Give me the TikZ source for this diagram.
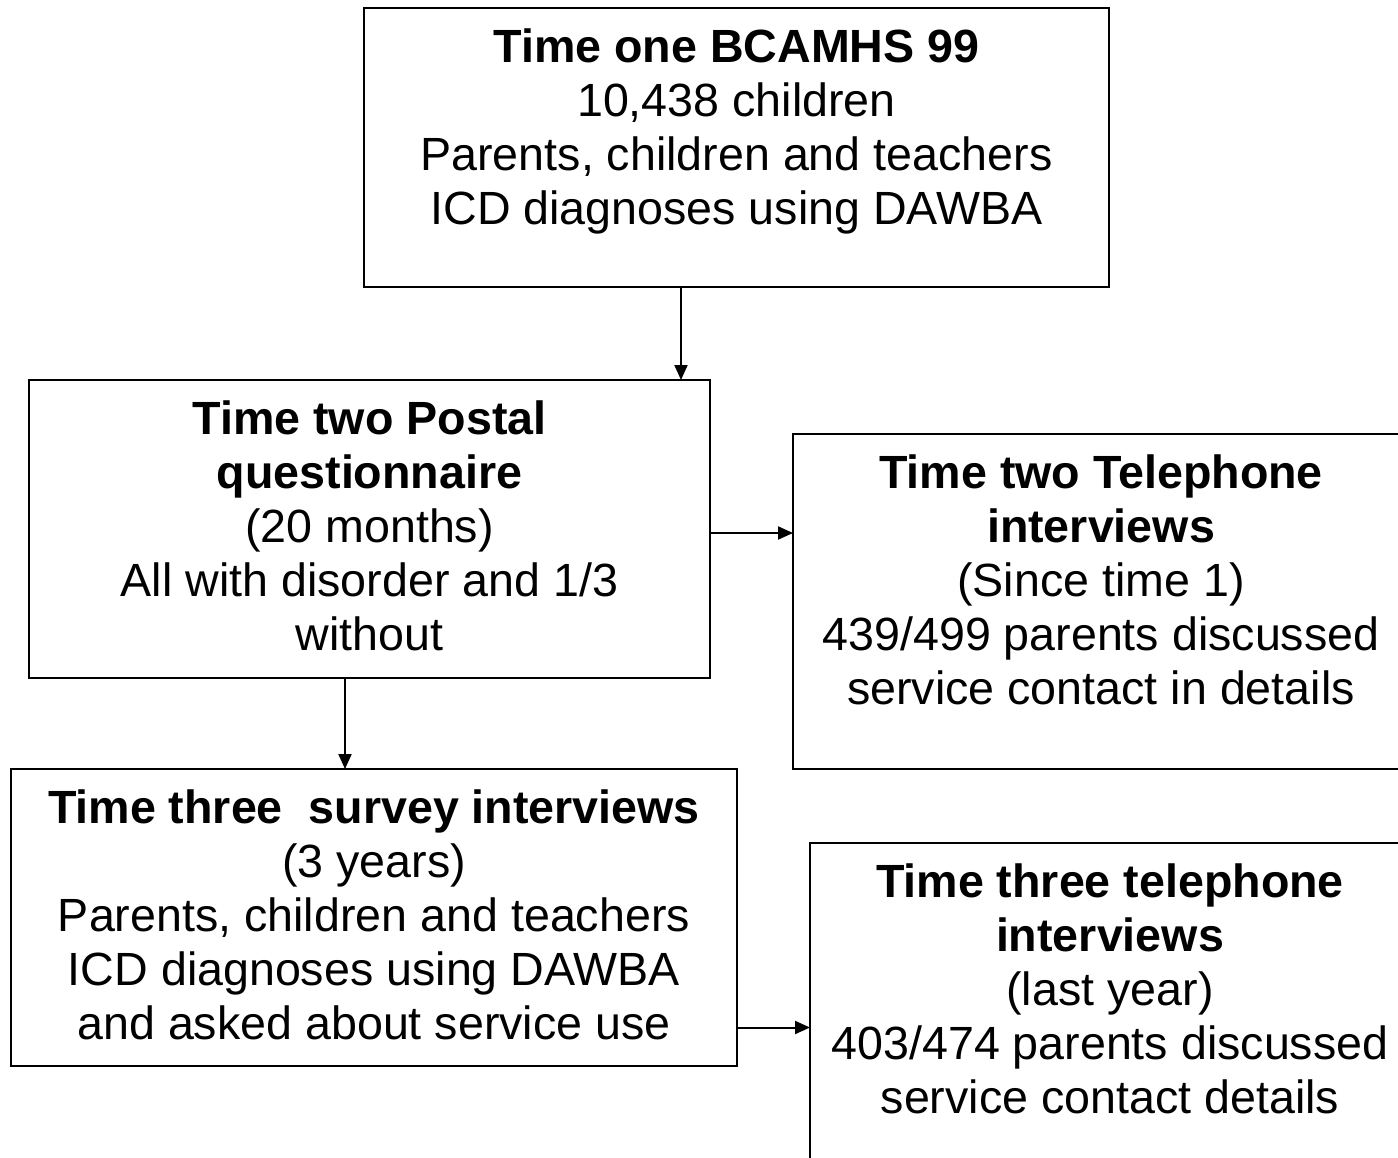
\documentclass[tikz,border=0pt]{standalone}
\usepackage{fontspec}
\setmainfont{Liberation Sans}
\usetikzlibrary{arrows.meta, positioning}

\tikzset{
  stagebox/.style={draw, line width=1pt, inner sep=0pt, outer sep=0pt, anchor=north west},
  stagetext/.style={align=center, inner sep=0pt, font=\fontsize{23.3}{27}\selectfont},
  arr/.style={-{Triangle[length=7.5pt,width=6.5pt]}, line width=1pt}
}

\begin{document}
\begin{tikzpicture}[x=0.5pt, y=-0.5pt]
\clip (0,0) rectangle (1398,1157);

% Boxes
\node[stagebox, minimum width=372.5pt, minimum height=139.5pt] (one) at (364,8) {};
\node[stagebox, minimum width=340.5pt, minimum height=149pt] (postal) at (29,380) {};
\node[stagebox, minimum width=308pt, minimum height=167.5pt] (teltwo) at (793,434) {};
\node[stagebox, minimum width=300pt, minimum height=170pt] (telthree) at (810,843) {};
\node[stagebox, minimum width=363pt, minimum height=148.5pt] (survey) at (11,769) {};

% Texts
\node[stagetext, below=10pt of one.north] (onetxt) {\textbf{Time one BCAMHS 99}\\10,438 children\\Parents, children and teachers\\ICD diagnoses using DAWBA};
\node[stagetext, below=10pt of postal.north] (postaltxt) {\textbf{Time two Postal}\\\textbf{questionnaire}\\(20 months)\\All with disorder and 1/3\\without};
\node[stagetext, below=10pt of teltwo.north] (teltwotxt) {\textbf{Time two Telephone}\\\textbf{interviews}\\(Since time 1)\\439/499 parents discussed\\service contact in details};
\node[stagetext, below=10pt of survey.north] (surveytxt) {\textbf{Time three\ \ survey interviews}\\(3 years)\\Parents, children and teachers\\ICD diagnoses using DAWBA\\and asked about service use};
\node[stagetext, below=10pt of telthree.north] (telthreetxt) {\textbf{Time three telephone}\\\textbf{interviews}\\(last year)\\403/474 parents discussed\\service contact details};

% Arrows
\draw[arr] ([xshift=-27.75pt]one.south) -- ([xshift=-27.75pt]one.south |- postal.north);
\draw[arr] ([yshift=-2pt]postal.east) -- ([yshift=-2pt]postal.east -| teltwo.west);
\draw[arr] ([xshift=-12.25pt]postal.south) -- ([xshift=-12.25pt]postal.south |- survey.north);
\draw[arr] ([yshift=-55pt]survey.east) -- ([yshift=-55pt]survey.east -| telthree.west);
\end{tikzpicture}
\end{document}
